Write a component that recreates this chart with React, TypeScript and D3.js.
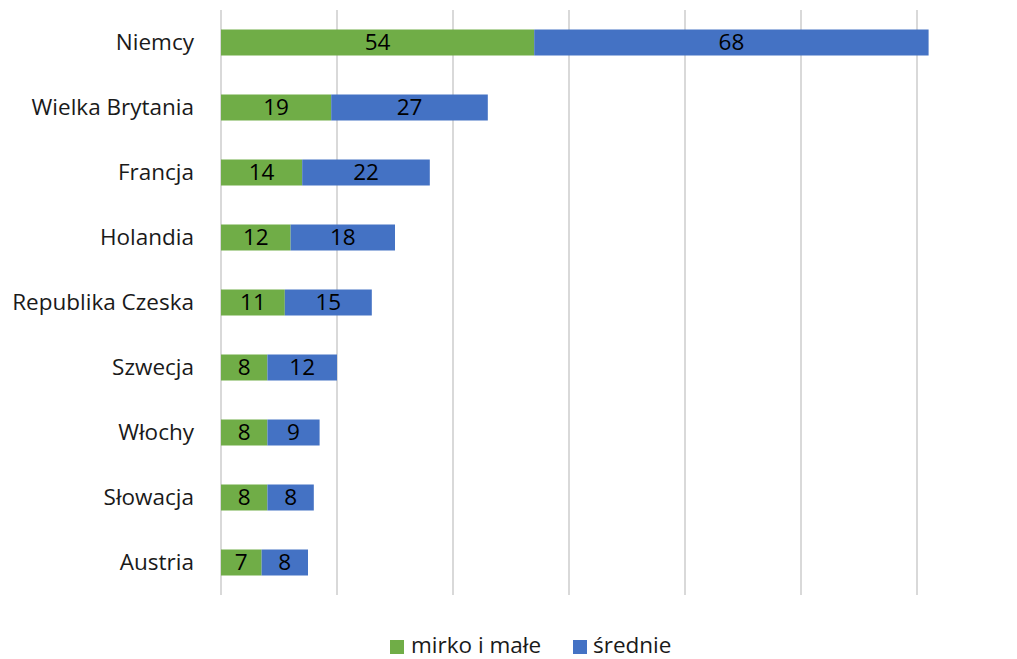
import React from "react";
import * as d3 from "d3";

const categories = ["Niemcy", "Wielka Brytania", "Francja", "Holandia", "Republika Czeska", "Szwecja", "Włochy", "Słowacja", "Austria"];
const small = [54, 19, 14, 12, 11, 8, 8, 8, 7];
const medium = [68, 27, 22, 18, 15, 12, 9, 8, 8];
const seriesNames = ["mirko i małe", "średnie"];
const colors = ["#70AD47", "#4472C4"];
const ticks = [0, 20, 40, 60, 80, 100, 120];

const FONT = "'Open Sans', sans-serif";
const FS = 22.5;

export default function App() {
  const W = 1017, H = 659;
  const x = d3.scaleLinear().domain([0, 120]).range([221, 917]);
  const y = d3.scaleBand<string>().domain(categories).range([10, 595]).paddingInner(0.6).paddingOuter(0.3);
  const bh = y.bandwidth();
  return (
    <svg width={W} height={H} style={{ position: "absolute", left: 0, top: 0, background: "#fff" }} fontFamily={FONT}>
      {ticks.map((t) => (
        <line key={t} x1={x(t)} x2={x(t)} y1={10} y2={595} stroke="#D9D9D9" strokeWidth={2} />
      ))}
      {categories.map((c, i) => {
        const y0 = y(c)!;
        const segs = [
          { v: small[i], x0: 0, col: colors[0] },
          { v: medium[i], x0: small[i], col: colors[1] },
        ];
        return (
          <g key={c}>
            <text x={194} y={y0 + bh / 2} dy="0.35em" textAnchor="end" fontSize={FS} fill="#1a1a1a">{c}</text>
            {segs.map((s, j) => {
              const xa = x(s.x0), xb = x(s.x0 + s.v);
              return (
                <g key={j}>
                  <rect x={xa} y={y0} width={xb - xa} height={bh} fill={s.col} />
                  <text x={(xa + xb) / 2} y={y0 + bh / 2} dy="0.35em" textAnchor="middle" fontSize={FS} fill="#000">{s.v}</text>
                </g>
              );
            })}
          </g>
        );
      })}
      <g>
        <rect x={390} y={640} width={14} height={14} fill={colors[0]} />
        <text x={411} y={645} dy="0.35em" fontSize={FS} fill="#1a1a1a">{seriesNames[0]}</text>
        <rect x={573} y={640} width={14} height={14} fill={colors[1]} />
        <text x={593} y={645} dy="0.35em" fontSize={FS} fill="#1a1a1a">{seriesNames[1]}</text>
      </g>
    </svg>
  );
}
